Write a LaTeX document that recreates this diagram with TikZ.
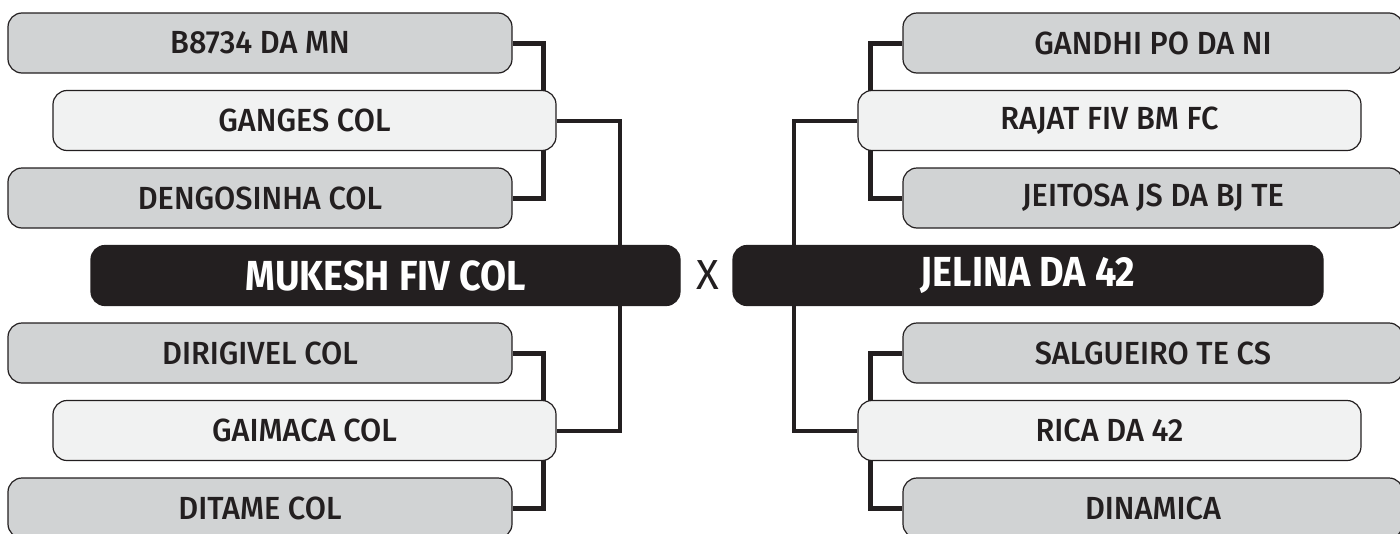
\documentclass[tikz,border=0pt]{standalone}
\usepackage{fontspec}
\setmainfont{Fira Sans Medium}[FakeStretch=0.96]
\newfontfamily\finalfont{Fira Sans Bold}[FakeStretch=0.9]
\newfontfamily\vsfont{Fira Sans}
\usetikzlibrary{backgrounds}

\definecolor{boxgrey}{HTML}{D1D3D4}
\definecolor{boxlight}{HTML}{F1F2F2}
\definecolor{boxdark}{HTML}{231F20}
\definecolor{inkdark}{HTML}{231F20}

\tikzset{
	team/.style={draw=inkdark, line width=1.2pt, rounded corners=14pt, minimum height=60pt, inner sep=0pt, text=inkdark, font=\fontsize{32}{32}\selectfont},
	seed/.style={team, fill=boxgrey},
	winner/.style={team, fill=boxlight},
	finalist/.style={team, fill=boxdark, text=white, font=\finalfont\fontsize{42}{42}\selectfont},
	link/.style={draw=inkdark, line width=4pt},
	innerlink/.style={link, line width=5pt}
}

\begin{document}
\begin{tikzpicture}[x=1pt, y=-1pt]
\useasboundingbox (0,0) rectangle (1400,533);

\pgfmathsetmacro{\brYa}{43}
\pgfmathsetmacro{\brYb}{120.5}
\pgfmathsetmacro{\brYc}{198}
\pgfmathsetmacro{\brYd}{275.5}
\pgfmathsetmacro{\brYe}{353}
\pgfmathsetmacro{\brYf}{430.5}
\pgfmathsetmacro{\brYg}{508}

% left side
\node[seed, minimum width=504pt] (lA) at (260,\brYa) {B8734 DA MN};
\node[winner, minimum width=503pt] (lB) at (304.5,\brYb) {GANGES COL};
\node[seed, minimum width=504pt] (lC) at (260,\brYc) {DENGOSINHA COL};
\node[finalist, minimum width=589pt] (lD) at (385.5,\brYd) {MUKESH FIV COL};
\node[seed, minimum width=504pt] (lE) at (260,\brYe) {DIRIGIVEL COL};
\node[winner, minimum width=503pt] (lF) at (304.5,\brYf) {GAIMACA COL};
\node[seed, minimum width=504pt] (lG) at (260,\brYg) {DITAME COL};

% right side
\node[seed, minimum width=500pt] (rA) at (1153,\brYa) {GANDHI PO DA NI};
\node[winner, minimum width=503pt] (rB) at (1109.5,\brYb) {RAJAT FIV BM FC};
\node[seed, minimum width=500pt] (rC) at (1153,\brYc) {JEITOSA JS DA BJ TE};
\node[finalist, minimum width=590pt] (rD) at (1028,\brYd) {JELINA DA 42};
\node[seed, minimum width=500pt] (rE) at (1153,\brYe) {SALGUEIRO TE CS};
\node[winner, minimum width=503pt] (rF) at (1109.5,\brYf) {RICA DA 42};
\node[seed, minimum width=500pt] (rG) at (1153,\brYg) {DINAMICA};

\node[text=inkdark, font=\vsfont\fontsize{42}{42}\selectfont] (vs) at (707.5,\brYd) {X};

\begin{scope}[on background layer]
\draw[innerlink] (lA.east) -- ++(31,0) |- (lC.east);
\draw[innerlink] (lE.east) -- ++(31,0) |- (lG.east);
\draw[link] (lB.east) -- ++(63,0) |- (lF.east);
\draw[innerlink] (rA.west) -- ++(-32,0) |- (rC.west);
\draw[innerlink] (rE.west) -- ++(-32,0) |- (rG.west);
\draw[link] (rB.west) -- ++(-63,0) |- (rF.west);
\end{scope}
\end{tikzpicture}
\end{document}
